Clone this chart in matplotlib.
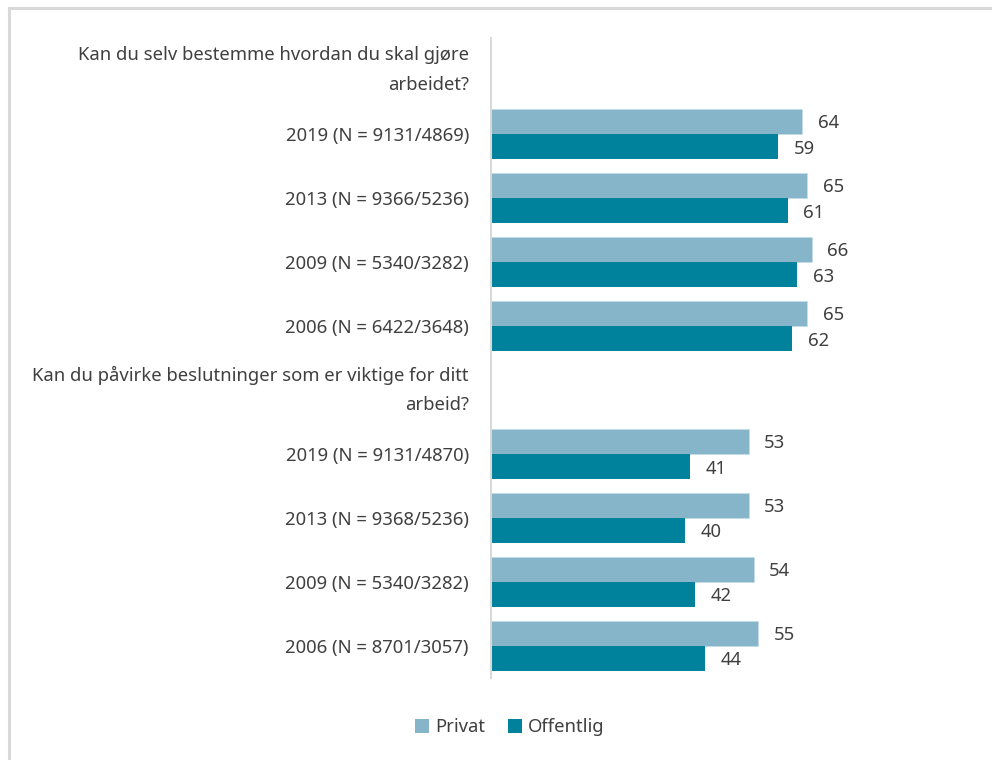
import matplotlib.pyplot as plt
from matplotlib.lines import Line2D
from matplotlib.patches import Patch

# Two questions, each with four survey years
questions = [
    "Kan du selv bestemme hvordan du skal gjøre\narbeidet?",
    "Kan du påvirke beslutninger som er viktige for ditt\narbeid?",
]
years_q1 = ["2019 (N = 9131/4869)", "2013 (N = 9366/5236)",
            "2009 (N = 5340/3282)", "2006 (N = 6422/3648)"]
years_q2 = ["2019 (N = 9131/4870)", "2013 (N = 9368/5236)",
            "2009 (N = 5340/3282)", "2006 (N = 8701/3057)"]
privat_q1 = [64, 65, 66, 65]
offentlig_q1 = [59, 61, 63, 62]
privat_q2 = [53, 53, 54, 55]
offentlig_q2 = [41, 40, 42, 44]

C_PRIVAT = "#86b4c8"
C_OFFENTLIG = "#00829c"
TXT = "#404040"
FS = 13.3

plt.rcParams["font.family"] = ["Noto Sans", "DejaVu Sans"]

fig = plt.figure(figsize=(9.92, 7.6), dpi=100)
ax = fig.add_axes([0.495, 0.108, 0.49, 0.842])

# build rows: header row followed by the year rows for each question
labels, privat, offentlig = [], [], []
for q, yrs, p, o in [(questions[0], years_q1, privat_q1, offentlig_q1),
                     (questions[1], years_q2, privat_q2, offentlig_q2)]:
    labels.append(q)
    privat.append(None)
    offentlig.append(None)
    labels.extend(yrs)
    privat.extend(p)
    offentlig.extend(o)

h = 0.395
for i, (p, o) in enumerate(zip(privat, offentlig)):
    if p is None:
        continue
    ax.barh(i - h / 2, p, height=h, color=C_PRIVAT, edgecolor="#c5dde8", linewidth=0.6)
    ax.barh(i + h / 2, o, height=h, color=C_OFFENTLIG)
    ax.text(p + 3.2, i - h / 2 + 0.03, str(p), va="center", ha="left", fontsize=FS, color=TXT)
    ax.text(o + 3.2, i + h / 2 + 0.03, str(o), va="center", ha="left", fontsize=FS, color=TXT)

ax.set_ylim(len(labels) - 0.5, -0.5)
ax.set_xlim(0, 100)
ax.set_yticks(range(len(labels)))
ax.set_yticklabels(labels, fontsize=FS, color=TXT, linespacing=1.8, ha="right")
for lab in ax.get_yticklabels():
    if "\n" in lab.get_text():
        lab.set_va("center")
ax.tick_params(axis="y", length=0, pad=16)
ax.set_xticks([])
for s in ["top", "right", "bottom"]:
    ax.spines[s].set_visible(False)
ax.spines["left"].set_color("#d9d9d9")
ax.spines["left"].set_linewidth(1.5)

handles = [Patch(facecolor=C_PRIVAT, label="Privat"),
           Patch(facecolor=C_OFFENTLIG, label="Offentlig")]
fig.legend(handles=handles, loc="center", bbox_to_anchor=(0.514, 0.043), ncol=2,
           frameon=False, fontsize=FS, labelcolor=TXT, handlelength=0.75,
           handleheight=0.75, handletextpad=0.35, columnspacing=1.2)

# light frame along the top and left edges
fig.add_artist(Line2D([0.009, 1.0], [0.989, 0.989], color="#d9d9d9", lw=2.2,
                      transform=fig.transFigure))
fig.add_artist(Line2D([0.009, 0.009], [0.0, 0.989], color="#d9d9d9", lw=2.2,
                      transform=fig.transFigure))

fig.savefig("out.png", dpi=100, facecolor="white")
